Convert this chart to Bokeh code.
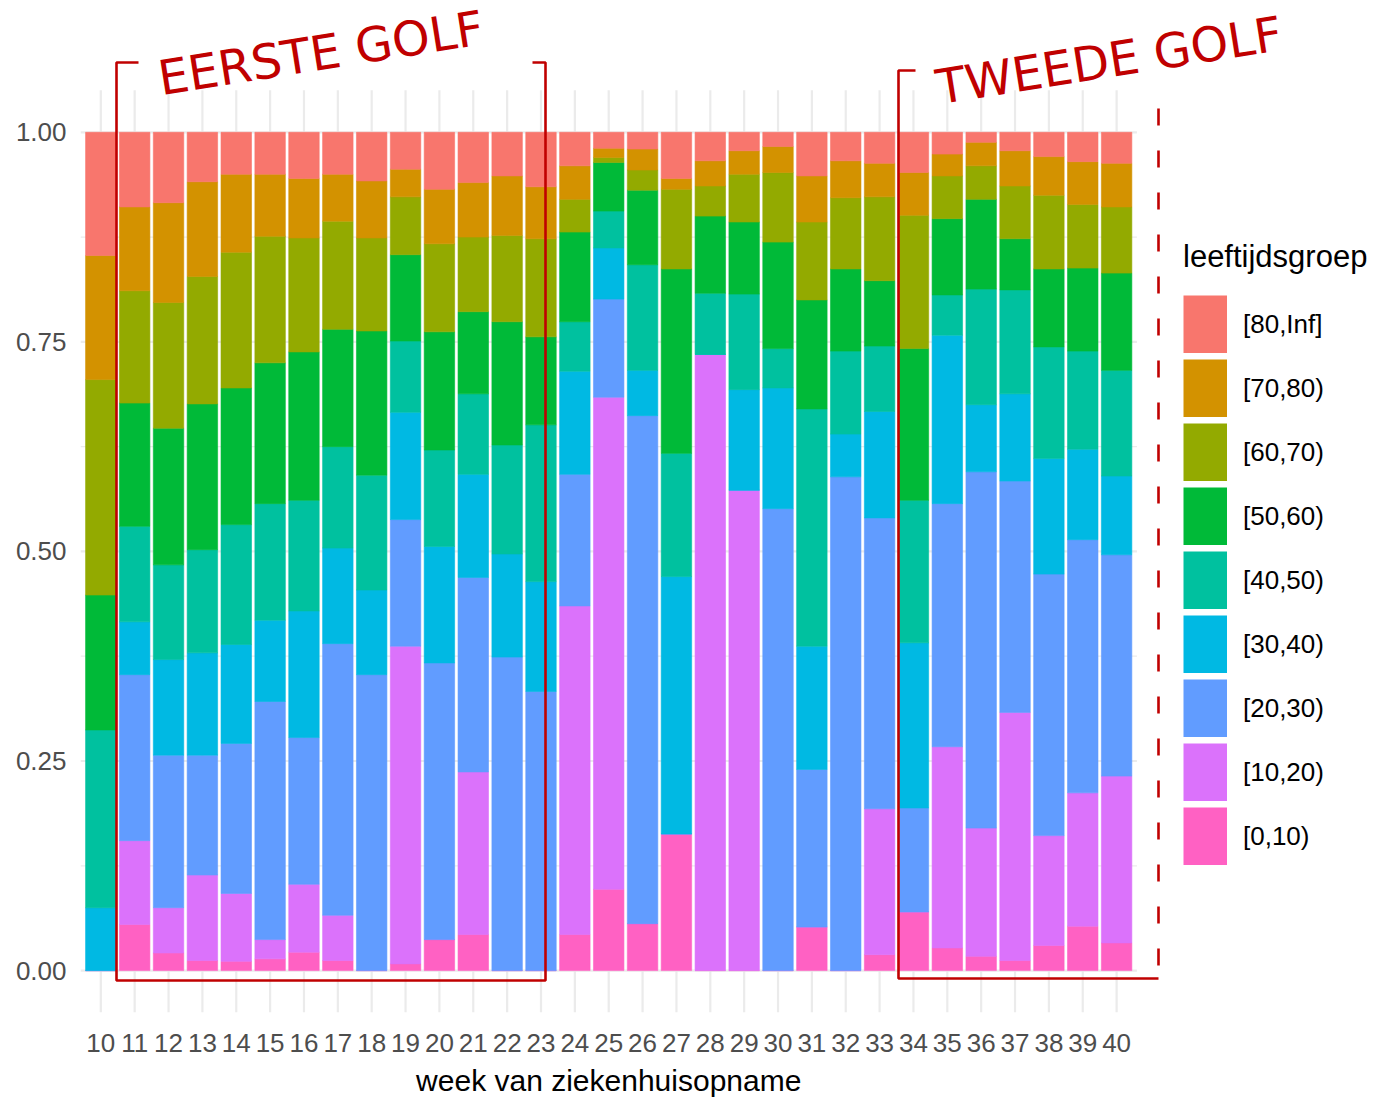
from bokeh.plotting import figure
from bokeh.models import (Range1d, FixedTicker, Legend, LegendItem, Label, Title,
                          ColumnDataSource)
from bokeh.embed import file_html
from bokeh.resources import INLINE

# ---------------- data ----------------
weeks = list(range(10, 41))
x_tick_labels = [str(w) for w in weeks]
y_ticks = [0.0, 0.25, 0.5, 0.75, 1.0]
y_tick_labels = ["0.00", "0.25", "0.50", "0.75", "1.00"]
y_minor = [0.125, 0.375, 0.625, 0.875]

groups = ["[0,10)", "[10,20)", "[20,30)", "[30,40)", "[40,50)",
          "[50,60)", "[60,70)", "[70,80)", "[80,Inf]"]
colors = ["#FF61C3", "#DB72FB", "#619CFF", "#00B9E3", "#00C19F",
          "#00BA38", "#93AA00", "#D39200", "#F8766D"]

age_0_10 = [0, .055, .021, .012, .011, .014, .022, .012, 0, .008, .037, .043, 0, 0, .043, .097,
            .056, .163, 0, 0, 0, .052, 0, .019, .070, .027, .017, .012, .030, .053, .033]
age_10_20 = [0, .100, .054, .102, .081, .023, .081, .054, 0, .379, 0, .194, 0, 0, .392, .587,
             0, 0, .735, .573, 0, 0, 0, .174, 0, .240, .153, .296, .131, .159, .199]
age_20_30 = [0, .198, .182, .143, .179, .284, .175, .324, .353, .151, .330, .232, .374, .333, .157, .117,
             .606, 0, 0, 0, .551, .188, .589, .347, .124, .290, .425, .276, .312, .302, .264]
age_30_40 = [.075, .063, .114, .122, .118, .097, .151, .114, .101, .128, .139, .123, .123, .131, .123, .061,
             .054, .307, 0, .120, .144, .147, .051, .127, .197, .201, .080, .104, .138, .108, .094]
age_40_50 = [.212, .114, .113, .123, .143, .139, .132, .121, .137, .085, .115, .096, .130, .187, .059, .044,
             .126, .147, .073, .114, .047, .283, .099, .078, .170, .048, .138, .124, .133, .117, .126]
age_50_60 = [.161, .147, .163, .174, .163, .168, .177, .140, .172, .103, .141, .098, .147, .105, .107, .058,
             .089, .220, .092, .086, .127, .130, .098, .078, .181, .091, .107, .061, .093, .099, .116]
age_60_70 = [.257, .134, .150, .152, .162, .151, .136, .129, .111, .069, .105, .089, .103, .117, .039, .006,
             .024, .095, .036, .057, .083, .093, .085, .100, .159, .051, .040, .063, .088, .076, .079]
age_70_80 = [.148, .100, .119, .113, .093, .074, .071, .056, .068, .033, .065, .065, .071, .062, .040, .011,
             .025, .013, .030, .028, .031, .055, .044, .040, .051, .026, .028, .042, .046, .051, .052]
age_80_inf = [.147, .089, .084, .059, .050, .050, .055, .050, .058, .044, .068, .060, .052, .065, .040, .019,
              .020, .055, .034, .022, .017, .052, .034, .037, .048, .026, .012, .022, .029, .035, .037]

series = [age_0_10, age_10_20, age_20_30, age_30_40, age_40_50,
          age_50_60, age_60_70, age_70_80, age_80_inf]

annot_color = "#C00000"
wave1_text = "EERSTE GOLF"
wave2_text = "TWEEDE GOLF"
x_title = "week van ziekenhuisopname"
legend_title = "leeftijdsgroep"

# ---------------- layout helpers ----------------
W, H = 1370, 1110
FRAME_LEFT = 80          # px from left of canvas
FRAME_BOTTOM = 1012      # px from top of canvas
PX_X = 33.86             # px per week
PX_Y = 838.3             # px per unit proportion
x0 = 9.4
y0 = -0.05
min_left = FRAME_LEFT
min_bottom = H - FRAME_BOTTOM
frame_w = W - min_left
frame_h = H - min_bottom


def px2x(px):
    return x0 + (px - FRAME_LEFT) / PX_X


def py2y(py):
    return y0 + (FRAME_BOTTOM - py) / PX_Y


p = figure(width=W, height=H, output_backend="svg", toolbar_location=None,
           x_range=Range1d(x0, x0 + frame_w / PX_X),
           y_range=Range1d(y0, y0 + frame_h / PX_Y),
           min_border_left=min_left, min_border_right=0,
           min_border_top=0, min_border_bottom=min_bottom)
p.outline_line_color = None
p.background_fill_color = "white"
p.border_fill_color = "white"
p.xgrid.visible = False
p.ygrid.visible = False

# grid lines limited to the panel
panel_x0, panel_x1 = weeks[0] - 0.6, weeks[-1] + 0.6
p.segment(x0=[panel_x0] * len(y_ticks), x1=[panel_x1] * len(y_ticks), y0=y_ticks, y1=y_ticks,
          line_color="#EBEBEB", line_width=2.2)
p.segment(x0=[panel_x0] * len(y_minor), x1=[panel_x1] * len(y_minor), y0=y_minor, y1=y_minor,
          line_color="#EBEBEB", line_width=1.2)
p.segment(x0=weeks, x1=weeks, y0=[-0.05] * len(weeks), y1=[1.05] * len(weeks),
          line_color="#EBEBEB", line_width=2.2)

# stacked bars
data = {"week": weeks}
for g, s in zip(groups, series):
    data[g] = s
source = ColumnDataSource(data)
renderers = p.vbar_stack(groups, x="week", width=0.9, source=source,
                         fill_color=colors, line_color=colors, line_width=0.6)

# axes
FONT = "Liberation Sans"
p.xaxis.ticker = FixedTicker(ticks=weeks)
p.xaxis.major_label_overrides = {w: l for w, l in zip(weeks, x_tick_labels)}
p.yaxis.ticker = FixedTicker(ticks=y_ticks)
p.yaxis.major_label_overrides = {t: l for t, l in zip(y_ticks, y_tick_labels)}
for ax in (p.xaxis, p.yaxis):
    ax.axis_line_color = None
    ax.major_tick_line_color = None
    ax.minor_tick_line_color = None
    ax.major_label_text_font = FONT
    ax.major_label_text_font_size = "26px"
    ax.major_label_text_color = "#4D4D4D"
p.xaxis.major_label_standoff = 15
p.yaxis.major_label_standoff = 8

# x-axis title (centred under the bar panel)
TITLE_SIZE = 30
title_w = 12.84 * TITLE_SIZE
panel_center_px = FRAME_LEFT + (((weeks[0] + weeks[-1]) / 2) - x0) * PX_X
p.add_layout(Title(text=x_title, align="left", offset=panel_center_px - title_w / 2 - FRAME_LEFT,
                   text_font=FONT, text_font_size=f"{TITLE_SIZE}px", text_font_style="normal",
                   text_color="black", standoff=15), "below")

# legend with solid colour keys (thick line keys fill the whole glyph box)
nan = float("nan")
key_renderers = [p.line(x=[nan, nan], y=[nan, nan], line_color=c, line_width=58) for c in colors]
items = [LegendItem(label=g, renderers=[r]) for g, r in zip(groups, key_renderers)][::-1]
legend = Legend(items=items, location=(1103, 147), title=legend_title,
                glyph_width=44, glyph_height=58, spacing=6, label_standoff=16,
                padding=0, margin=0, border_line_color=None, background_fill_alpha=0,
                label_text_font=FONT, label_text_font_size="26px", label_text_color="black",
                title_text_font=FONT, title_text_font_size="31px", title_text_font_style="normal",
                title_text_color="black", title_standoff=20)
p.add_layout(legend)

# red hand-drawn annotations (canvas pixel positions)
box1 = [(138, 62), (116, 62), (116, 980), (545, 980), (545, 62), (532, 62)]
box2 = [(915, 70), (898, 70), (898, 978), (1158, 978)]
box2_dash = [(1158, 108), (1158, 978)]
for pts, dash in ((box1, "solid"), (box2, "solid"), (box2_dash, "17 25")):
    p.line(x=[px2x(a) for a, b in pts], y=[py2y(b) for a, b in pts],
           line_color=annot_color, line_width=2.6, line_dash=dash)

for txt, (ax_, ay_) in ((wave1_text, (158, 78)), (wave2_text, (936, 87))):
    p.add_layout(Label(x=px2x(ax_), y=py2y(ay_), text=txt, angle=9, angle_units="deg",
                       text_font="DejaVu Sans", text_font_size="48px", text_color=annot_color,
                       text_align="left", text_baseline="alphabetic"))

open("out.html", "w").write(file_html(p, INLINE))
